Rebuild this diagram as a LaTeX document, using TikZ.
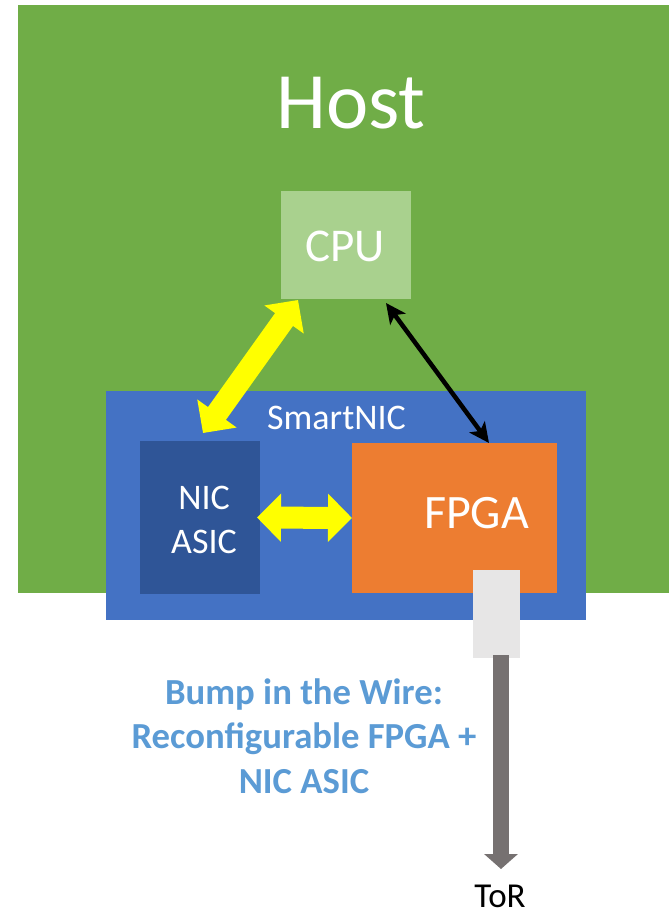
\documentclass[tikz,border=0pt]{standalone}
\usepackage{fontspec}
\setmainfont{Carlito}
\usetikzlibrary{arrows.meta}
\definecolor{hostgreen}{HTML}{70AD47}
\definecolor{cpugreen}{HTML}{A9D18E}
\definecolor{nicblue}{HTML}{4472C4}
\definecolor{asicblue}{HTML}{2F5597}
\definecolor{fpgaorange}{HTML}{ED7D31}
\definecolor{connlight}{HTML}{E7E6E6}
\definecolor{wiregrey}{HTML}{767171}
\definecolor{capblue}{HTML}{5B9BD5}
\definecolor{yarrowc}{HTML}{FFFF00}
\tikzset{
  blk/.style={rectangle, inner sep=0pt, outer sep=0pt, draw=none, anchor=north west},
  wtext/.style={text=white, inner sep=0pt, outer sep=0pt},
  yarrow/.style={draw=yarrowc, line width=22pt,
    {Triangle[width=47pt,length=24pt]}-{Triangle[width=47pt,length=24pt]}},
  karrow/.style={draw=black, line width=4.5pt,
    {Stealth[width=19pt,length=20pt,inset=5pt]}-{Stealth[width=19pt,length=20pt,inset=5pt]}},
  garrow/.style={draw=wiregrey, line width=16pt, -{Triangle[width=33pt,length=15pt]}}
}
\begin{document}
\begin{tikzpicture}[x=1pt,y=-1pt]
\useasboundingbox[fill=white] (0,0) rectangle (669,918);
% boxes
\node[blk, fill=hostgreen, minimum width=651pt, minimum height=588pt] (host) at (18,5) {};
\node[blk, fill=nicblue, minimum width=480pt, minimum height=229pt] (smartnic) at (106,391) {};
\node[blk, fill=cpugreen, minimum width=130pt, minimum height=108pt] (cpu) at (281,191) {};
\node[blk, fill=asicblue, minimum width=120pt, minimum height=153pt] (nic) at (140,441) {};
\node[blk, fill=fpgaorange, minimum width=205pt, minimum height=150pt] (fpga) at (352,443) {};
\node[blk, fill=connlight, minimum width=47pt, minimum height=88pt] (conn) at (473,570) {};
% texts
\node[wtext, anchor=base, font=\fontsize{80}{96}\selectfont] (hostlbl) at (351,128) {Host};
\node[wtext, anchor=base, font=\fontsize{47}{56}\selectfont] (cpulbl) at (345,261) {CPU};
\node[wtext, anchor=base, font=\fontsize{36}{43}\selectfont] (smartlbl) at (336.5,429) {SmartNIC};
\node[wtext, align=center, font=\fontsize{36}{44}\selectfont] (niclbl) at (204,519.5) {NIC\\ASIC};
\node[wtext, anchor=base, font=\fontsize{48}{57}\selectfont] (fpgalbl) at (476.5,528) {FPGA};
\node[text=capblue, inner sep=0pt, align=center, font=\bfseries\fontsize{36.7}{44.5}\selectfont] (caption) at (304,736) {Bump in the Wire:\\Reconfigurable FPGA +\\NIC ASIC};
\node[text=black, inner sep=0pt, anchor=base, font=\fontsize{35}{42}\selectfont] (tor) at (500,907) {ToR};
% connectors
\coordinate (torTip) at (501,869);
\draw[yarrow] ([shift={(3,-8)}]nic.north) -- ([shift={(17,1)}]cpu.south west);
\draw[yarrow] ([shift={(-3,0)}]nic.east) -- ([shift={(0,0)}]fpga.west);
\draw[karrow] ([shift={(-25,4)}]cpu.south east) -- ([shift={(34.5,0)}]fpga.north);
\draw[garrow] ([shift={(4.5,-3)}]conn.south) -- (torTip);
\end{tikzpicture}
\end{document}
